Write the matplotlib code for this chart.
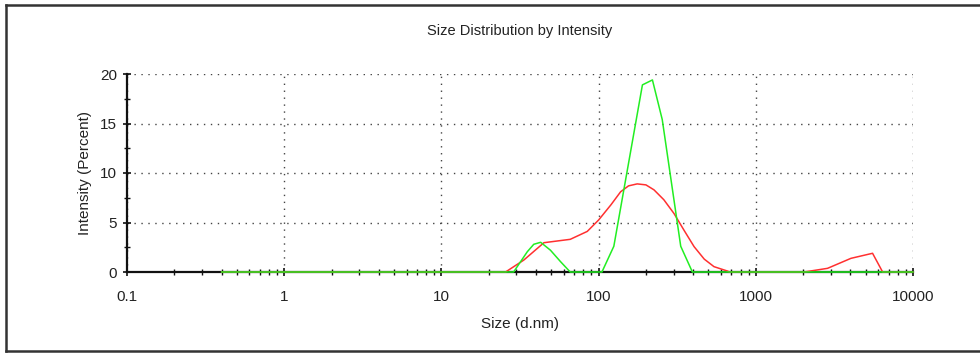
import matplotlib
matplotlib.use("Agg")
import matplotlib.pyplot as plt
from matplotlib.ticker import FixedLocator, NullFormatter
from matplotlib.lines import Line2D

plt.rcParams['font.family'] = ['Liberation Sans', 'DejaVu Sans']

title = "Size Distribution by Intensity"
xlabel = "Size (d.nm)"
ylabel = "Intensity (Percent)"

red_x = [0.4, 25.6, 33.4, 44.9, 66, 84.7, 100, 120, 138, 155, 176, 200, 225, 260, 302, 350,
         405, 470, 542, 659, 680, 2030, 2860, 4030, 5530, 6410, 10000]
red_y = [0, 0, 1.2, 2.96, 3.3, 4.1, 5.25, 6.8, 8.1, 8.7, 8.9, 8.8, 8.3, 7.3, 5.9, 4.2,
         2.56, 1.3, 0.54, 0.1, 0, 0, 0.37, 1.38, 1.89, 0, 0]

green_x = [0.4, 28.8, 35.2, 38.7, 42.8, 49.4, 57.3, 66, 105, 125, 190, 220, 254, 333, 395, 10000]
green_y = [0, 0, 2.05, 2.8, 3.0, 2.2, 1.04, 0, 0, 2.6, 18.9, 19.4, 15.4, 2.6, 0, 0]

x_major = [0.1, 1, 10, 100, 1000, 10000]
x_major_labels = ["0.1", "1", "10", "100", "1000", "10000"]
y_major = [0, 5, 10, 15, 20]

fig = plt.figure(figsize=(9.8, 3.53), dpi=100)
ax = fig.add_axes([127/980, 1-272/353, (913-127)/980, (272-74)/353])

ax.plot(red_x, red_y, color='#ff3030', lw=1.1, zorder=3, clip_on=False)
ax.plot(green_x, green_y, color='#22ee22', lw=1.1, zorder=4, clip_on=False)

ax.set_xscale('log')
ax.set_xlim(0.1, 10000)
ax.set_ylim(0, 20)

ax.xaxis.set_major_locator(FixedLocator(x_major))
ax.set_xticklabels(x_major_labels)
minors = [m * d for d in [0.1, 1, 10, 100, 1000] for m in range(2, 10)]
ax.xaxis.set_minor_locator(FixedLocator(minors))
ax.xaxis.set_minor_formatter(NullFormatter())
ax.yaxis.set_major_locator(FixedLocator(y_major))
ax.yaxis.set_minor_locator(FixedLocator([2.5, 7.5, 12.5, 17.5]))

ax.tick_params(axis='both', which='major', direction='inout', length=6, width=1.2,
               color='#111111', labelsize=11, labelcolor='#222222')
ax.tick_params(axis='both', which='minor', direction='inout', length=5, width=1.0, color='#111111')
ax.tick_params(axis='x', which='major', pad=10)
ax.tick_params(axis='y', which='major', pad=4)

for s in ['top', 'right']:
    ax.spines[s].set_visible(False)
for s in ['left', 'bottom']:
    ax.spines[s].set_linewidth(1.6)
    ax.spines[s].set_color('#111111')
    ax.spines[s].set_zorder(2)

ax.grid(True, which='major', linestyle=(0, (1, 4)), color='#444444', lw=1.0)
ax.set_axisbelow(True)

ax.set_title(title, fontsize=10.5, color='#222222', pad=28)
ax.set_xlabel(xlabel, fontsize=11, color='#222222', labelpad=9)
ax.set_ylabel(ylabel, fontsize=11, color='#222222', labelpad=6)

# figure border (left, top, bottom)
for (xs, ys) in [([6/980, 6/980], [1-5/353, 1-351/353]),
                 ([6/980, 1.0], [1-5/353, 1-5/353]),
                 ([6/980, 1.0], [1-351/353, 1-351/353])]:
    fig.add_artist(Line2D(xs, ys, transform=fig.transFigure, color='#333333', lw=1.8))

fig.savefig('out.png', dpi=100)
